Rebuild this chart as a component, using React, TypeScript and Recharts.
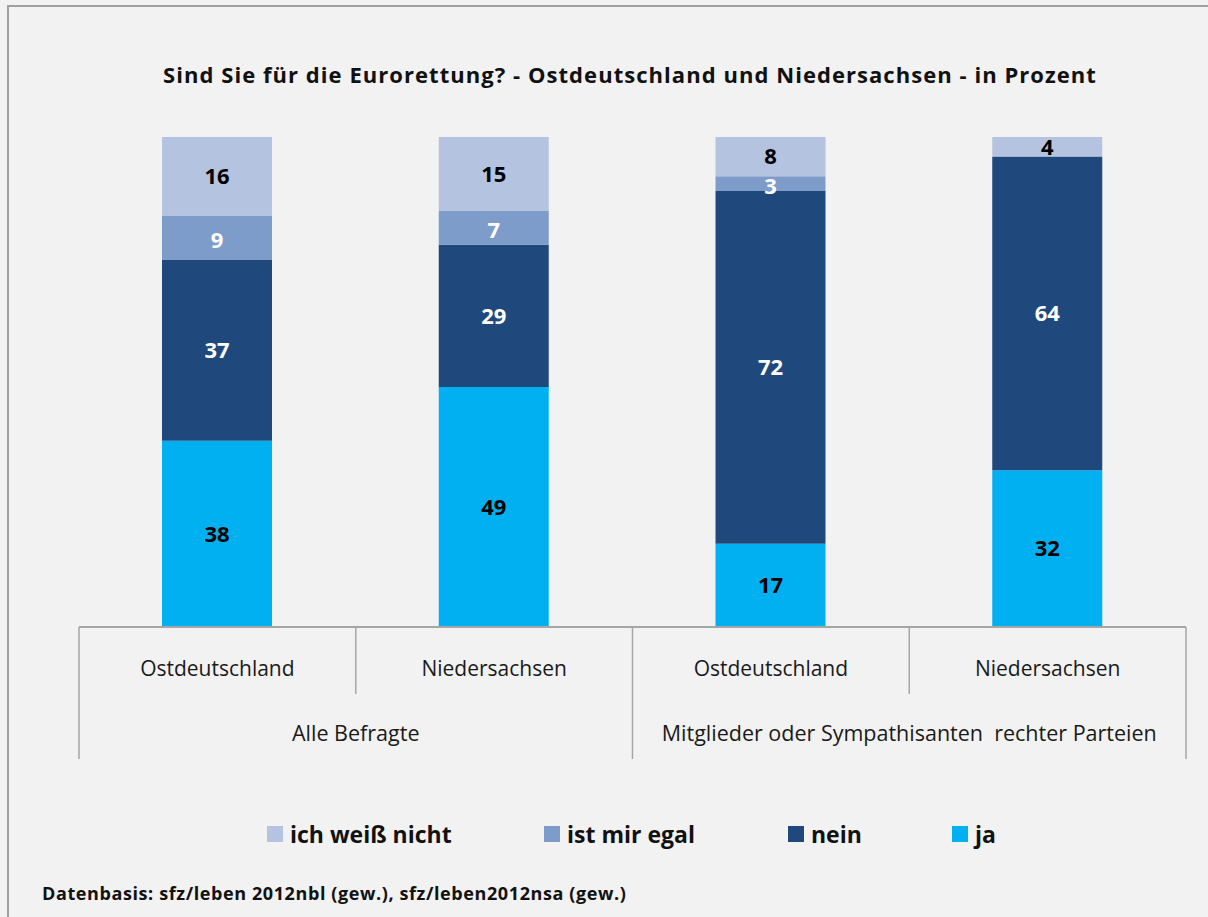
import { BarChart, Bar, XAxis, YAxis, LabelList } from 'recharts';

const categories = ['Ostdeutschland', 'Niedersachsen', 'Ostdeutschland', 'Niedersachsen'];
const groups = ['Alle Befragte', 'Mitglieder oder Sympathisanten  rechter Parteien'];

const ja = [38, 49, 17, 32];
const nein = [37, 29, 72, 64];
const egal = [9, 7, 3, 0];
const weissNicht = [16, 15, 8, 4];

const SERIES = [
  { key: 'ja', name: 'ja', color: '#00b0f0', label: '#000000', values: ja },
  { key: 'nein', name: 'nein', color: '#1f497d', label: '#ffffff', values: nein },
  { key: 'egal', name: 'ist mir egal', color: '#7e9cc9', label: '#ffffff', values: egal },
  { key: 'weiss', name: 'ich weiß nicht', color: '#b4c3df', label: '#000000', values: weissNicht },
];

const data = categories.map((c, i) => {
  const row: Record<string, string | number> = { cat: c };
  SERIES.forEach(s => { row[s.key] = s.values[i]; });
  return row;
});

const FONT = '"Open Sans", Lato, sans-serif';
const W = 1208;
const H = 917;
const LEFT = 79;
const RIGHT = 1186;
const AXIS_Y = 627;
const BAND = (RIGHT - LEFT) / categories.length;

// legend item left edges, in legend order (ich weiß nicht, ist mir egal, nein, ja)
const LEGEND_X = [267, 544, 788, 952];

function CatTick(props: any) {
  const { x, index, payload } = props;
  const left = x - BAND / 2;
  const lineColor = '#a6a6a6';
  return (
    <g>
      <line x1={left} y1={AXIS_Y} x2={left} y2={index % 2 === 0 ? 759 : 694} stroke={lineColor} strokeWidth={1.5} />
      {index === categories.length - 1 && (
        <line x1={x + BAND / 2} y1={AXIS_Y} x2={x + BAND / 2} y2={759} stroke={lineColor} strokeWidth={1.5} />
      )}
      <text x={x} y={676} textAnchor="middle" fontSize={21} fontFamily={FONT} fill="#1a1a1a">
        {payload.value}
      </text>
      {index % 2 === 1 && (
        <text x={left} y={741} textAnchor="middle" fontSize={21.5} fontFamily={FONT} fill="#1a1a1a" style={{ whiteSpace: 'pre' }}>
          {groups[(index - 1) / 2]}
        </text>
      )}
    </g>
  );
}

export default function App() {
  const legendOrder = [...SERIES].reverse();
  return (
    <div style={{ position: 'absolute', left: 0, top: 0, width: W, height: H, background: '#f2f2f2', overflow: 'hidden', fontFamily: FONT }}>
      <div style={{ position: 'absolute', left: 7, top: 5, width: W, height: H, borderLeft: '2px solid #a0a0a0', borderTop: '2px solid #a0a0a0' }} />
      <div style={{ position: 'absolute', left: 0, width: 1260, top: 59, textAlign: 'center', fontSize: 22, fontWeight: 700, letterSpacing: 1.05, color: '#111' }}>
        Sind Sie für die Eurorettung? - Ostdeutschland und Niedersachsen - in Prozent
      </div>
      <div style={{ position: 'absolute', left: 0, top: 0 }}>
        <BarChart width={W} height={H} data={data} margin={{ top: 137, right: W - RIGHT, left: LEFT, bottom: 150 }} barSize={110}>
          <YAxis hide domain={[0, 100]} />
          <XAxis dataKey="cat" height={140} tickLine={false} axisLine={{ stroke: '#a6a6a6', strokeWidth: 2 }} tick={<CatTick />} interval={0} />
          {SERIES.map(s => (
            <Bar key={s.key} dataKey={s.key} name={s.name} stackId="a" fill={s.color} isAnimationActive={false}>
              <LabelList
                dataKey={s.key}
                position="center"
                formatter={(v: any) => (v ? v : '')}
                fill={s.label}
                fontSize={22}
                fontWeight={700}
                fontFamily={FONT}
                dy={s.key === 'egal' ? 3 : 0}
              />
            </Bar>
          ))}
        </BarChart>
      </div>
      {legendOrder.map((s, i) => (
        <div key={s.key} style={{ position: 'absolute', top: 818, left: LEGEND_X[i], display: 'flex', alignItems: 'center', fontSize: 23, fontWeight: 700, color: '#111' }}>
          <span style={{ width: 16, height: 16, background: s.color, display: 'inline-block', marginRight: 7 }} />
          <span>{s.name}</span>
        </div>
      ))}
      <div style={{ position: 'absolute', top: 881, left: 42, fontSize: 18, fontWeight: 700, letterSpacing: 0.6, color: '#111' }}>
        Datenbasis: sfz/leben 2012nbl (gew.), sfz/leben2012nsa (gew.)
      </div>
    </div>
  );
}
